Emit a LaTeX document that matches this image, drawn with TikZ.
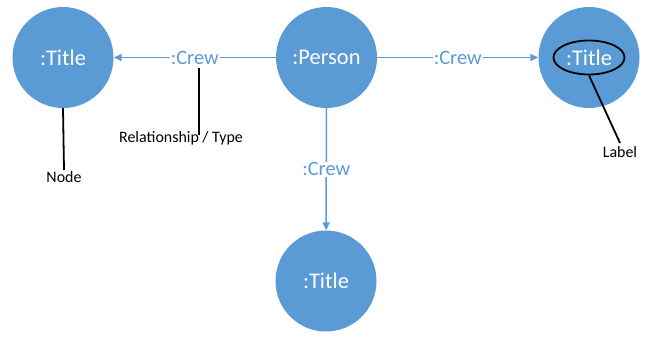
\documentclass[tikz,border=0pt]{standalone}
\usepackage{fontspec}
\setmainfont{Carlito}
\usetikzlibrary{shapes.geometric,arrows.meta}
\definecolor{nblue}{HTML}{5B9BD5}
\begin{document}
\begin{tikzpicture}[x=1bp,y=-1bp,
  gnode/.style={circle,fill=nblue,minimum size=101bp,inner sep=0pt,text=white,font=\fontsize{22.5}{26}\selectfont},
  rel/.style={draw=nblue,line width=1.5bp,-{Triangle[length=8bp,width=7bp]}},
  rellbl/.style={fill=white,text=nblue,inner sep=1pt,font=\fontsize{20.5}{24}\selectfont},
  callout/.style={draw=black,line width=1.8bp},
  ctext/.style={font=\fontsize{16}{19}\selectfont,inner sep=1pt}]
\useasboundingbox (0,0) rectangle (652,336);
\node[gnode] (t1) at (63,57.5) {:Title};
\node[gnode] (p) at (326.5,57.5) {:Person};
\node[gnode] (t2) at (589,57.5) {:Title};
\node[gnode] (t3) at (326,281) {:Title};
\draw[rel] (p) -- node[rellbl] (c1) {:Crew} (t1);
\draw[rel] (p) -- node[rellbl] (c2) {:Crew} (t2);
\draw[rel] (p) -- node[rellbl] (c3) {:Crew} (t3);
% callouts
\node[ctext] (nodelbl) at (64,177) {Node};
\draw[callout] (t1.south) -- (nodelbl.north);
\node[ctext] (rellbl) at (181,138.5) {Relationship / Type};
\coordinate (ra) at (199,68);
\coordinate (rb) at (199,135);
\draw[callout] (ra) -- (rb);
\node[ellipse,draw=black,line width=1.8bp,minimum width=71bp,minimum height=34bp,inner sep=0pt] (lab) at (589,57.5) {};
\node[ctext] (labellbl) at (620,152) {Label};
\coordinate (lb) at (620,143);
\draw[callout] (lab.south) -- (lb);
\end{tikzpicture}
\end{document}
